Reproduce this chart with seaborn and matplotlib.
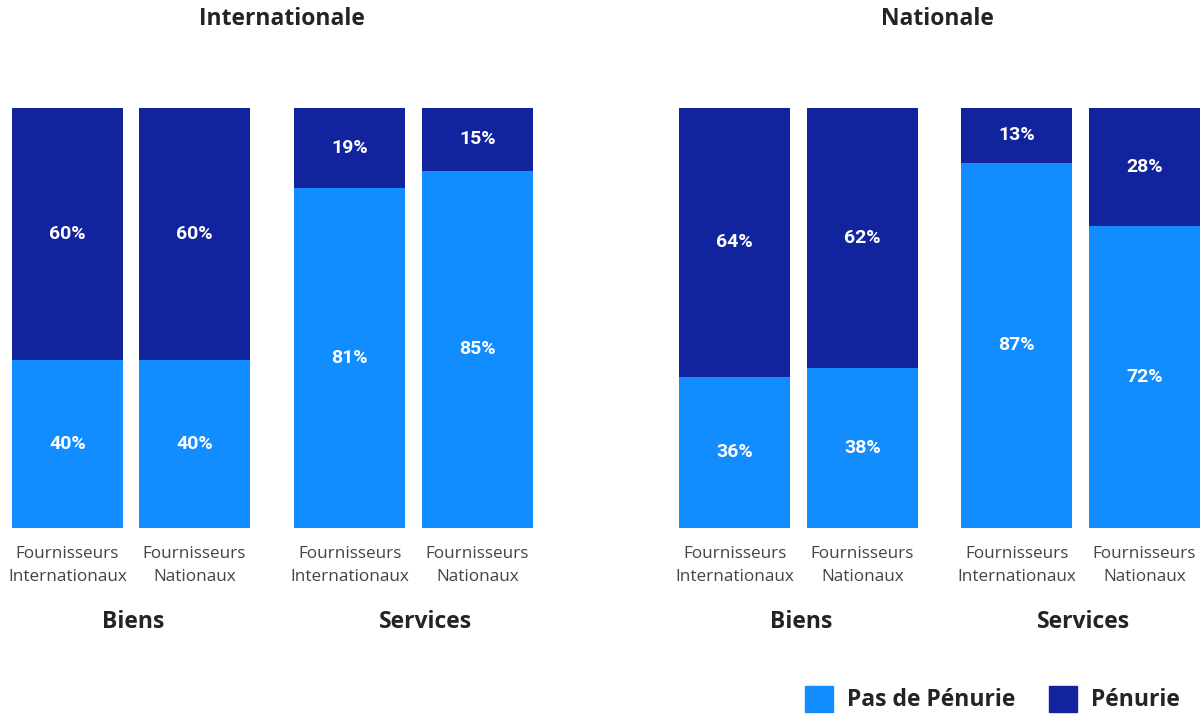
import matplotlib
matplotlib.use("Agg")
import matplotlib.pyplot as plt
from matplotlib.patches import Patch
import pandas as pd
import seaborn as sns

# data
panels = ["Internationale", "Nationale"]
groups = ["Biens", "Services"]
suppliers = ["Fournisseurs\nInternationaux", "Fournisseurs\nNationaux"]
# Pas de Pénurie (%) per panel -> group -> supplier
pas_penurie = [[[40, 40], [81, 85]],
               [[36, 38], [87, 72]]]
penurie = [[[60, 60], [19, 15]],
           [[64, 62], [13, 28]]]

LIGHT = "#118DFF"
DARK = "#12239E"
TXT = "#252423"

sns.set_theme(style="white")
plt.rcParams["font.family"] = ["Open Sans", "DejaVu Sans"]

W, H = 1202, 715
fig = plt.figure(figsize=(W / 100, H / 100), dpi=100)

# axes pixel boxes (left, right) for each panel/group
boxes = [[(12, 250), (294, 533)], [(679, 918), (961, 1200)]]
group_x = [[133, 426], [801, 1084]]
panel_x = [282, 937]
top, bottom = 108, 528
bw = 0.874

for p, panel in enumerate(panels):
    for g, group in enumerate(groups):
        l, r = boxes[p][g]
        ax = fig.add_axes([l / W, 1 - bottom / H, (r - l) / W, (bottom - top) / H])
        df = pd.DataFrame({
            "supplier": suppliers,
            "pas": pas_penurie[p][g],
            "pen": penurie[p][g],
        })
        df["total"] = df["pas"] + df["pen"]
        sns.barplot(data=df, x="supplier", y="total", color=DARK, width=bw,
                    saturation=1, ax=ax, edgecolor="none")
        sns.barplot(data=df, x="supplier", y="pas", color=LIGHT, width=bw,
                    saturation=1, ax=ax, edgecolor="none")
        ax.set_xlim(-bw / 2, 1 + bw / 2)
        ax.set_ylim(0, 100)
        ax.set_xlabel("")
        ax.set_ylabel("")
        ax.set_yticks([])
        ax.tick_params(axis="x", length=0, pad=13, labelsize=12.3, labelcolor="#444444")
        for lab in ax.get_xticklabels():
            lab.set_linespacing(1.62)
        sns.despine(ax=ax, left=True, bottom=True)
        for i in range(len(suppliers)):
            a, b = df["pas"][i], df["pen"][i]
            ax.text(i, a / 2, f"{a}%", ha="center", va="center", color="white",
                    fontsize=14, fontweight="bold", family=["Roboto", "DejaVu Sans"])
            ax.text(i, a + b / 2, f"{b}%", ha="center", va="center", color="white",
                    fontsize=14, fontweight="bold", family=["Roboto", "DejaVu Sans"])
        fig.text(group_x[p][g] / W, 1 - 622 / H, group, ha="center", va="center",
                 fontsize=16.5, fontweight="bold", color=TXT)
    fig.text(panel_x[p] / W, 1 - 19 / H, panel, ha="center", va="center",
             fontsize=16.5, fontweight="bold", color=TXT)

handles = [Patch(color=LIGHT, label="Pas de Pénurie"), Patch(color=DARK, label="Pénurie")]
leg = fig.legend(handles=handles, loc="center right", bbox_to_anchor=(1180 / W, 1 - 699 / H),
                 ncol=2, frameon=False, handlelength=1.22, handleheight=1.4,
                 handletextpad=0.6, columnspacing=1.5, borderpad=0, borderaxespad=0,
                 prop={"size": 16.5, "weight": "bold"})
for t in leg.get_texts():
    t.set_color(TXT)

fig.savefig("out.png", dpi=100)
